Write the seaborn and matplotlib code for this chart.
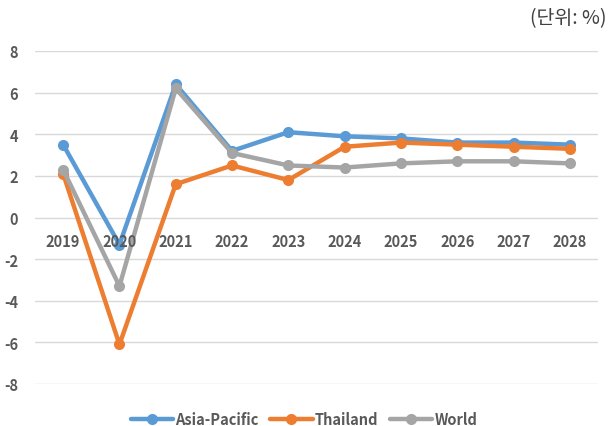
import matplotlib
matplotlib.use("Agg")
import matplotlib.pyplot as plt
import seaborn as sns
import pandas as pd

years = [2019, 2020, 2021, 2022, 2023, 2024, 2025, 2026, 2027, 2028]
asia_pacific = [3.5, -1.3, 6.4, 3.2, 4.1, 3.9, 3.8, 3.6, 3.6, 3.5]
thailand = [2.1, -6.1, 1.6, 2.5, 1.8, 3.4, 3.6, 3.5, 3.4, 3.3]
world = [2.3, -3.3, 6.2, 3.1, 2.5, 2.4, 2.6, 2.7, 2.7, 2.6]
series_names = ["Asia-Pacific", "Thailand", "World"]
colors = ["#5B9BD5", "#ED7D31", "#A5A5A5"]
y_ticks = [-8, -6, -4, -2, 0, 2, 4, 6, 8]
unit_label = "(단위: %)"

sns.set_theme(style="white")
plt.rcParams["font.family"] = ["Noto Sans CJK KR", "DejaVu Sans"]

df = pd.DataFrame({
    "year": years * 3,
    "value": asia_pacific + thailand + world,
    "series": [s for s in series_names for _ in years],
})

fig = plt.figure(figsize=(6.10, 4.27), dpi=100)
ax = fig.add_axes([35 / 610, 1 - 385 / 427, (598 - 35) / 610, (385 - 52) / 427])

sns.lineplot(
    data=df, x="year", y="value", hue="series", hue_order=series_names,
    palette=colors, marker="o", markersize=8, markeredgewidth=0,
    linewidth=3.2, ax=ax, legend=True,
)

ax.set_xlim(years[0] - 0.5, years[-1] + 0.5)
ax.set_ylim(-8, 8)
ax.set_yticks(y_ticks)
ax.set_yticklabels([str(t) for t in y_ticks], fontsize=10.5,
                   fontweight="bold", color="#595959")
ax.tick_params(axis="y", length=0, pad=12)
ax.set_xticks([])
ax.set_xlabel("")
ax.set_ylabel("")
for s in ax.spines.values():
    s.set_visible(False)
ax.grid(axis="y", color="#D9D9D9", linewidth=1.0)
ax.set_axisbelow(True)

# Category labels sit just below the zero line, drawn over the series
for yr in years:
    ax.annotate(str(yr), xy=(yr, 0), xytext=(0, -11), textcoords="offset points",
                ha="center", va="top", fontsize=10.5, fontweight="bold",
                color="#595959", zorder=3)

handles, labels = ax.get_legend_handles_labels()
ax.legend(handles, labels, loc="center", bbox_to_anchor=(304 / 610, 1 - 420 / 427),
          bbox_transform=fig.transFigure, ncol=3, frameon=False,
          prop={"size": 10.5, "weight": "bold"}, labelcolor="#595959",
          handlelength=2.9, handletextpad=0.15, columnspacing=0.8)

fig.text(607 / 610, 1 - 19 / 427, unit_label, ha="right", va="center",
         fontsize=14, color="#404040")

fig.savefig("out.png", dpi=100)
